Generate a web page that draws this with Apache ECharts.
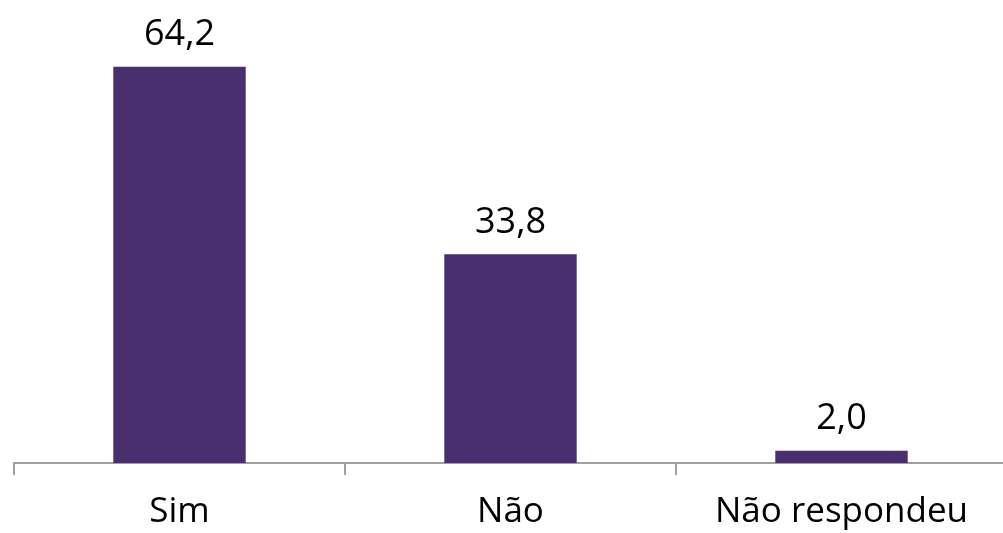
<!DOCTYPE html>
<html>
<head>
<meta charset="utf-8">
<script src="https://cdn.jsdelivr.net/npm/echarts@6/dist/echarts.min.js"></script>
<style>
html,body{margin:0;padding:0;background:#fff;}
#main{width:1003px;height:533px;}
</style>
</head>
<body>
<div id="main"></div>
<script>
var categories = ['Sim', 'Não', 'Não respondeu'];
var values = [64.2, 33.8, 2.0];

var myChart = echarts.init(document.getElementById('main'));
var option = {
  animation: false,
  grid: {
    left: 14,
    width: 993,
    top: 0,
    bottom: 70,
    containLabel: false,
    outerBoundsMode: 'none'
  },
  xAxis: {
    type: 'category',
    data: categories,
    axisLine: { lineStyle: { color: '#a0a0a0', width: 2 } },
    axisTick: { show: true, length: 12, lineStyle: { color: '#a0a0a0', width: 2 } },
    axisLabel: {
      color: '#000',
      fontFamily: 'Open Sans',
      fontSize: 35,
      margin: 32
    }
  },
  yAxis: {
    type: 'value',
    min: 0,
    max: 75,
    show: false,
    splitLine: { show: false }
  },
  series: [
    {
      type: 'bar',
      data: values,
      barWidth: '40%',
      itemStyle: { color: '#4a2f6e' },
      label: {
        show: true,
        position: 'top',
        distance: 14,
        color: '#000',
        fontFamily: 'Open Sans',
        fontSize: 36,
        formatter: function (p) { return p.value.toFixed(1).replace('.', ','); }
      }
    }
  ]
};
myChart.setOption(option);
</script>
</body>
</html>
